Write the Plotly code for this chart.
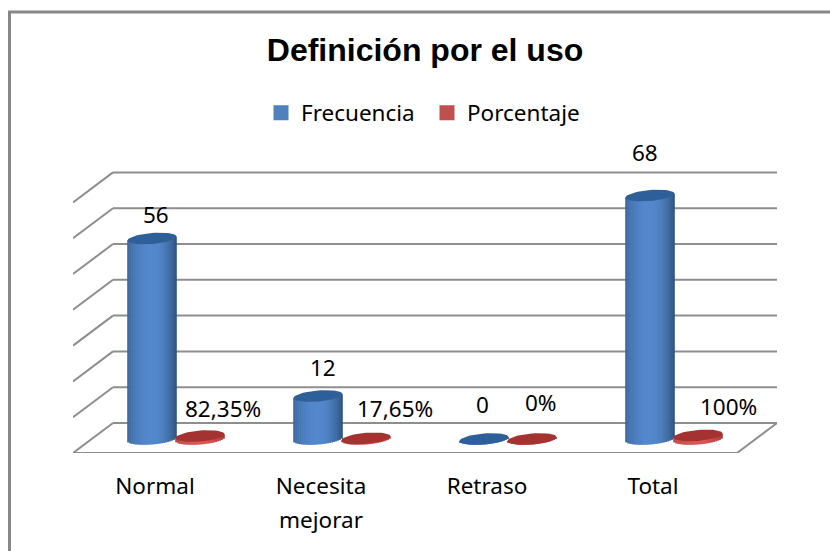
import math
import plotly.graph_objects as go

# ---- data ----
categories = ["Normal", "Necesita<br>mejorar", "Retraso", "Total"]
frecuencia = [56, 12, 0, 68]
porcentaje = [0.8235, 0.1765, 0, 1]
frecuencia_labels = ["56", "12", "0", "68"]
porcentaje_labels = ["82,35%", "17,65%", "0%", "100%"]
grid_values = [0, 10, 20, 30, 40, 50, 60, 70]

# ---- layout constants (pixels) ----
W, H = 830, 551
L, R, T, B = 73, 777, 120, 453       # plot box
CAT_PX = 166.0                       # pixels per category
PX_PER_UNIT = 3.58                   # pixels per value unit
BASE_PX = 439                        # pixel row of value 0 for the cylinders
DEPTH_PX = 40                        # depth of the 3D floor, horizontally
BACK_UP = BASE_PX - 423              # back wall above base row
FRONT_DOWN = 453 - BASE_PX           # front edge below base row
BAR_OFF = 24.0
RX, RY, TILT = 24.5, 5.5, 0.08

def xpx(p):
    return p / CAT_PX
def ypx(p):
    return p / PX_PER_UNIT

x_range = [-0.5, 3.5 + xpx(DEPTH_PX)]
y_range = [-ypx(FRONT_DOWN), ypx(BASE_PX - T)]

def paper_x(px):
    return (px - L) / (R - L)
def paper_y(py):
    return (B - py) / (B - T)

def lerp(c1, c2, t):
    return tuple(c1[i] + (c2[i] - c1[i]) * t for i in range(3))

def shade(u, edge_l, mid, edge_r):
    # u in -1..1
    c = lerp(mid, edge_l, abs(u) ** 2.2) if u < 0 else lerp(mid, edge_r, u ** 2.2)
    return "rgb(%d,%d,%d)" % tuple(round(v) for v in c)

N = 25

def cylinder_strips(values, offset_px, e_l, mid, e_r):
    xs, ys, bases, cols = [], [], [], []
    for i, v in enumerate(values):
        cx = i + xpx(DEPTH_PX / 2 + offset_px)
        for k in range(N):
            u = -1 + (k + 0.5) * 2 / N
            rise = ypx(TILT * u * RX)
            low = -ypx(RY * math.sqrt(max(0, 1 - u * u))) + rise
            xs.append(cx + xpx(u * RX))
            bases.append(low)
            ys.append(v + rise - low)
            cols.append(shade(u, e_l, mid, e_r))
    return go.Bar(x=xs, y=ys, base=bases, width=xpx(2 * RX / N + 0.6),
                  marker=dict(color=cols, line=dict(width=0)),
                  showlegend=False, hoverinfo="skip")

def cap(values, offset_px, color):
    xs, ys = [], []
    for i, v in enumerate(values):
        cx = i + xpx(DEPTH_PX / 2 + offset_px)
        for k in range(49):
            t = 2 * math.pi * k / 48
            dx = RX * math.cos(t)
            dy = RY * math.sin(t) + TILT * dx
            xs.append(cx + xpx(dx))
            ys.append(v + ypx(dy))
        xs.append(None)
        ys.append(None)
    return go.Scatter(x=xs, y=ys, mode="lines", fill="toself", fillcolor=color,
                      line=dict(width=0, color=color), showlegend=False,
                      hoverinfo="skip")

fig = go.Figure()

fig.add_trace(cylinder_strips(frecuencia, -BAR_OFF, (58, 102, 156), (84, 136, 204), (42, 80, 126)))
fig.add_trace(cylinder_strips(porcentaje, BAR_OFF, (185, 70, 68), (215, 88, 86), (170, 50, 50)))
fig.add_trace(cap(frecuencia, -BAR_OFF, "#2F5F98"))
fig.add_trace(cap(porcentaje, BAR_OFF, "#A33231"))

# legend entries (square swatches)
for name, color in (("Frecuencia", "#4F81BD"), ("Porcentaje", "#C0504D")):
    fig.add_trace(go.Scatter(name=name, x=[None], y=[None], mode="markers",
                             marker=dict(symbol="square", size=15, color=color, line=dict(width=0))))

# ---- 3D grid ----
GRID = "#8E8E8E"
shapes = []
def seg(x0, y0, x1, y1):
    shapes.append(dict(type="line", xref="x", yref="y", x0=x0, y0=y0, x1=x1, y1=y1,
                       layer="below", line=dict(color=GRID, width=2)))

xl, xr = x_range
for v in grid_values:
    back = v + ypx(BACK_UP)
    front = v - ypx(FRONT_DOWN)
    seg(xl + xpx(DEPTH_PX), back, xr, back)        # back wall line
    seg(xl, front, xl + xpx(DEPTH_PX), back)       # left wall diagonal
f0 = -ypx(FRONT_DOWN)
b0 = ypx(BACK_UP)
seg(xl, f0, xr - xpx(DEPTH_PX), f0)                # front floor edge
seg(xr - xpx(DEPTH_PX), f0, xr, b0)                # right floor edge

# outer frame (top and left edges only are visible in the reference)
FRAME = "#888888"
shapes.append(dict(type="line", xref="paper", yref="paper",
                   x0=paper_x(9.5), x1=paper_x(9.5), y0=paper_y(H), y1=paper_y(12),
                   line=dict(color=FRAME, width=3)))
shapes.append(dict(type="line", xref="paper", yref="paper",
                   x0=paper_x(8), x1=paper_x(W), y0=paper_y(12), y1=paper_y(12),
                   line=dict(color=FRAME, width=3)))

# ---- data labels ----
LABEL_FONT = dict(family="Noto Sans", size=22.5, color="#000000")
freq_shift = [(4, 24), (5, 29), (-2, 35), (-5, 43)]
pct_shift = [(23, 28), (29, 30), (9, 37), (30, 29)]
ann = []
for i in range(4):
    ann.append(dict(x=i + xpx(DEPTH_PX / 2 - BAR_OFF), y=frecuencia[i], xref="x", yref="y",
                    text=frecuencia_labels[i], showarrow=False, font=LABEL_FONT,
                    xshift=freq_shift[i][0], yshift=freq_shift[i][1]))
    ann.append(dict(x=i + xpx(DEPTH_PX / 2 + BAR_OFF), y=porcentaje[i], xref="x", yref="y",
                    text=porcentaje_labels[i], showarrow=False, font=LABEL_FONT,
                    xshift=pct_shift[i][0], yshift=pct_shift[i][1]))

TICK = '<span style="font-size:22.5px">%s</span>'
fig.update_layout(
    width=W, height=H, autosize=False,
    margin=dict(l=L, r=W - R, t=T, b=H - B, pad=0),
    paper_bgcolor="white", plot_bgcolor="white",
    barmode="overlay",
    title=dict(text="<b>Definición por el uso</b>", x=425 / W, xanchor="center",
               y=1 - 50 / H, yanchor="middle",
               font=dict(family="Liberation Sans", size=32, color="#000000")),
    legend=dict(orientation="h", x=paper_x(261), xanchor="left", y=paper_y(113), yanchor="middle",
                font=dict(family="Noto Sans", size=22.5, color="#000000"),
                entrywidth=121, entrywidthmode="pixels", itemsizing="trace",
                bgcolor="rgba(0,0,0,0)", itemclick=False, itemdoubleclick=False),
    xaxis=dict(range=x_range, tickvals=[0, 1, 2, 3],
               ticktext=[TICK % s.replace("<br>", '</span><br><span style="font-size:22.5px">') for s in categories],
               showgrid=False, zeroline=False, showline=False, ticks="",
               tickfont=dict(family="Noto Sans", size=26, color="#000000"),
               ticklabelstandoff=14, ticklabelshift=-1),
    yaxis=dict(range=y_range, showgrid=False, zeroline=False, showline=False,
               showticklabels=False, ticks=""),
    shapes=shapes, annotations=ann,
)

fig.write_html("out.html", config=dict(displayModeBar=False),
               post_script="document.body.style.margin='0';document.body.style.overflow='hidden';")
